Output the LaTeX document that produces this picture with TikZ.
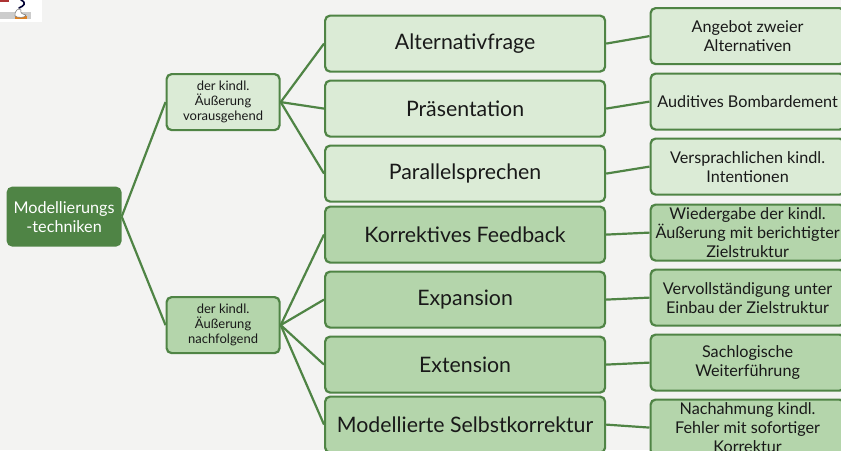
\documentclass[tikz,border=0pt]{standalone}
\usepackage{fontspec}
\setmainfont{Lato}
\definecolor{bgc}{HTML}{F3F3F2}
\definecolor{edgec}{HTML}{4F8445}
\definecolor{lightc}{HTML}{DBEBD6}
\definecolor{midc}{HTML}{B4D5AB}
\tikzset{
  x=1pt,y=-1pt,
  basebox/.style={draw=edgec,line width=2.2pt,rounded corners=5pt,align=center,inner sep=0pt,text=black!90,anchor=north west},
  rootbox/.style={basebox,fill=edgec,draw=edgec,text=white,minimum width=113pt,minimum height=58pt,font=\fontsize{16.2}{19}\selectfont},
  subbox/.style={basebox,fill=lightc,minimum width=113pt,minimum height=56pt,font=\fontsize{13}{15}\selectfont},
  subboxb/.style={subbox,fill=midc},
  mainl/.style={basebox,fill=lightc,minimum width=280pt,minimum height=56pt,font=\fontsize{21.3}{24}\selectfont},
  maind/.style={mainl,fill=midc},
  detl/.style={basebox,fill=lightc,minimum width=194pt,minimum height=56pt,font=\fontsize{16.2}{19}\selectfont},
  detd/.style={detl,fill=midc},
  link/.style={draw=edgec,line width=2.2pt}
}
\begin{document}
\begin{tikzpicture}
\useasboundingbox (0,0) rectangle (841,450);
\fill[bgc] (0,0) rectangle (841,450);
% clipped picture remnant
\fill[white] (0,0) rectangle (42,22);
\fill[black!20] (0,12) rectangle (31,19);
\fill[red!60!black!80] (0,0) rectangle (9,2);
\fill[orange!50!brown] (15,16) rectangle (27,19);
\draw[black!80!blue,line width=1.6pt,line cap=round] (21,0) .. controls (27,3) and (24,6) .. (19,8);
\fill[white,draw=black!50,line width=.6pt] (15,16) .. controls (14,11) and (19,7) .. (21,10) .. controls (20,13) and (22,14) .. (26,15) .. controls (26,18) and (17,18) .. (15,16);
% nodes
\node[rootbox] (root) at (6.5,186.5) {Modellierungs\\-techniken};
\node[subbox] (s1) at (165.5,73) {der kindl.\\Äußerung\\vorausgehend};
\node[subboxb] (s2) at (165.5,296) {der kindl.\\Äußerung\\nachfolgend};
\node[mainl] (m1) at (324,14.5) {Alternativfrage};
\node[mainl] (m2) at (324,79.5) {Präsentation};
\node[mainl] (m3) at (324,144.5) {Parallelsprechen};
\node[maind] (m4) at (324,205.5) {Korrektives Feedback};
\node[maind] (m5) at (324,270.5) {Expansion};
\node[maind] (m6) at (324,335.5) {Extension};
\node[maind] (m7) at (324,395.5) {Modellierte Selbstkorrektur};
\node[detl] (d1) at (649.5,7) {Angebot zweier\\Alternativen};
\node[detl] (d2) at (649.5,72.5) {Auditives Bombardement};
\node[detl] (d3) at (649.5,137.5) {Versprachlichen kindl.\\Intentionen};
\node[detd] (d4) at (649.5,203.5) {Wiedergabe der kindl.\\Äußerung mit berichtigter\\Zielstruktur};
\node[detd] (d5) at (649.5,268.5) {Vervollständigung unter\\Einbau der Zielstruktur};
\node[detd] (d6) at (649.5,333.5) {Sachlogische\\Weiterführung};
\node[detd] (d7) at (649.5,398.5) {Nachahmung kindl.\\Fehler mit sofortiger\\Korrektur};
% connectors
\foreach \a/\b in {root/s1,root/s2,s1/m1,s1/m2,s1/m3,s2/m4,s2/m5,s2/m6,s2/m7,m1/d1,m2/d2,m3/d3,m4/d4,m5/d5,m6/d6,m7/d7}
  \draw[link] (\a.east) -- (\b.west);
\end{tikzpicture}
\end{document}
